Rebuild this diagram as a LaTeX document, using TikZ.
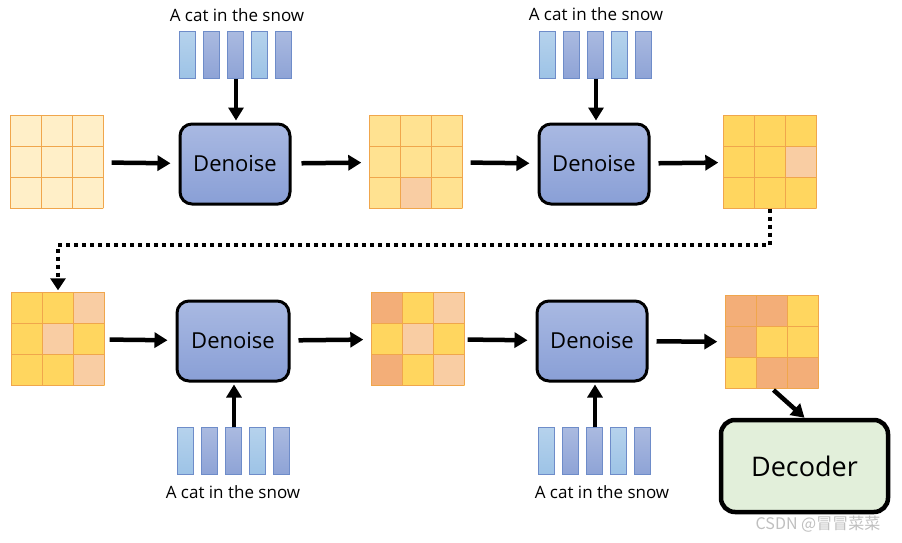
\documentclass[tikz,border=0pt]{standalone}
\usepackage{fontspec}
\setmainfont{Open Sans}
\newfontfamily\cjk{Noto Sans CJK SC}
\usetikzlibrary{arrows.meta,calc}
\definecolor{cream}{HTML}{FFEFC8}
\definecolor{lyellow}{HTML}{FFE291}
\definecolor{gold}{HTML}{FFD65F}
\definecolor{peach}{HTML}{F9CDA3}
\definecolor{orng}{HTML}{F3AE78}
\definecolor{cellline}{HTML}{F0A64C}
\definecolor{barlight}{HTML}{9DC3E6}
\definecolor{bardark}{HTML}{8EA3D6}
\definecolor{barline}{HTML}{6E8CC9}
\definecolor{boxtop}{HTML}{A9B9E2}
\definecolor{boxbot}{HTML}{899FD6}
\definecolor{decfill}{HTML}{E2EFDA}

\begin{document}
\begin{tikzpicture}[x=1pt,y=-1pt,inner sep=0pt,
  latent/.style={minimum width=93pt,minimum height=93pt},
  denoise/.style={draw,line width=3pt,rounded corners=12pt,top color=boxtop,bottom color=boxbot,
    minimum width=110pt,minimum height=80pt,font=\fontsize{22}{26}\selectfont},
  prompt/.style={font=\fontsize{17}{20}\selectfont},
  embed/.style={minimum width=112pt,minimum height=47pt},
  arr/.style={line width=4.5pt,-{Triangle[length=13pt,width=15pt]}},
  dotarr/.style={line width=4pt,dash pattern=on 4pt off 4pt,-{Triangle[length=12pt,width=15pt]}}]

\useasboundingbox (0,0) rectangle (902,543);

% latents
\node[latent,fill=cream] (g1) at (57,162) {};
\node[latent,fill=lyellow] (g2) at (416,162) {};
\node[latent,fill=gold] (g3) at (770,162) {};
\node[latent,fill=gold] (g4) at (58,339) {};
\node[latent,fill=gold] (g5) at (418,339) {};
\node[latent,fill=orng] (g6) at (772,342) {};

\foreach \g/\c/\r/\col in {g2/1/2/peach, g3/2/1/peach,
    g4/2/0/peach, g4/1/1/peach, g4/2/2/peach,
    g5/0/0/orng, g5/2/0/peach, g5/1/1/peach, g5/0/2/orng, g5/2/2/peach,
    g6/2/0/gold, g6/1/1/gold, g6/2/1/gold, g6/0/2/gold}
  \fill[\col] ($(\g.north west)+(\c*31,\r*31)$) rectangle ++(31,31);

\foreach \g in {g1,g2,g3,g4,g5,g6}
  \foreach \i in {0,1,2,3} {
    \draw[cellline,line width=1.5pt] ($(\g.north west)+(\i*31,0)$) -- ++(0,93);
    \draw[cellline,line width=1.5pt] ($(\g.north west)+(0,\i*31)$) -- ++(93,0);
  }

% denoise steps
\node[denoise] (d1) at (235,164) {Denoise};
\node[denoise] (d2) at (594,164) {Denoise};
\node[denoise,minimum width=112pt] (d3) at (233,341) {Denoise};
\node[denoise] (d4) at (592,341) {Denoise};

% prompts
\node[prompt] (t1) at (237,15) {A cat in the snow};
\node[prompt] (t2) at (596,14) {A cat in the snow};
\node[prompt] (t3) at (233,492) {A cat in the snow};
\node[prompt] (t4) at (602,492) {A cat in the snow};

\node[embed] (e1) at (236,55) {};
\node[embed] (e2) at (596,55) {};
\node[embed] (e3) at (234,451) {};
\node[embed] (e4) at (595,451) {};

\foreach \e in {e1,e2,e3,e4}
  \foreach \i/\col in {0/barlight,1/bardark,2/bardark,3/barlight,4/bardark}
    \draw[barline,line width=0.8pt,top color=\col!75!white,bottom color=\col]
      ($(\e.north west)+(\i*24,0)$) rectangle ++(16,47);

% decoder
\node[draw,line width=4.5pt,rounded corners=14pt,fill=decfill,minimum width=167pt,
  minimum height=92pt,font=\fontsize{27}{31}\selectfont] (dec) at (804.5,466) {Decoder};

% arrows
\draw[arr,shorten <=8pt,shorten >=8pt] (g1) -- (d1);
\draw[arr,shorten <=10pt,shorten >=8pt] (d1) -- (g2);
\draw[arr,shorten <=8pt,shorten >=8pt] (g2) -- (d2);
\draw[arr,shorten <=8pt,shorten >=5pt] (d2) -- (g3);
\draw[arr,shorten <=5pt,shorten >=8pt] (g4) -- (d3);
\draw[arr,shorten <=8pt,shorten >=8pt] (d3) -- (g5);
\draw[arr,shorten <=3pt,shorten >=8pt] (g5) -- (d4);
\draw[arr,shorten <=8pt,shorten >=8pt] (d4) -- (g6);

\draw[arr,shorten >=2pt] (e1.south) -- (e1.south |- d1.north);
\draw[arr,shorten >=2pt] (e2.south) -- (e2.south |- d2.north);
\draw[arr,shorten >=2pt] (e3.north) -- (e3.north |- d3.south);
\draw[arr,shorten >=2pt] (e4.north) -- (e4.north |- d4.south);

\draw[dotarr,shorten >=2pt] (g3.south) -- ++(0,36) -| (g4.north);
\draw[arr,shorten <=2pt] (g6.south) -- (dec.north);

\node[text=gray!50,font=\cjk\fontsize{16}{19}\selectfont] (wm) at (818,524) {CSDN @冒冒菜菜};

\end{tikzpicture}
\end{document}
